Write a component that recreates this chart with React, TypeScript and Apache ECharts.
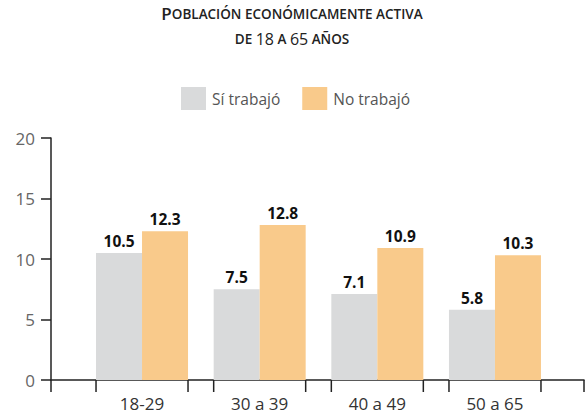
import React, { useEffect, useRef } from "react";
import * as echarts from "echarts";

const categories = ["18-29", "30 a 39", "40 a 49", "50 a 65"];
const siTrabajo = [10.5, 7.5, 7.1, 5.8];
const noTrabajo = [12.3, 12.8, 10.9, 10.3];
const seriesNames = ["Sí trabajó", "No trabajó"];
const yTicks = { min: 0, max: 20, interval: 5 };

const GRAY = "#d9dadb";
const ORANGE = "#f9ca8b";
const FONT = "'Open Sans', 'Noto Sans', sans-serif";
const BAR_W = 46;

export default function App() {
  const ref = useRef<HTMLDivElement>(null);
  useEffect(() => {
    if (!ref.current) return;
    const chart = echarts.init(ref.current, null, { renderer: "svg" });
    const labelStyle = {
      show: true,
      position: "top",
      distance: 4,
      color: "#111",
      fontWeight: "bold",
      fontSize: 15.5,
      fontFamily: FONT,
    };
    chart.setOption({
      animation: false,
      backgroundColor: "#ffffff",
      title: {
        text: "{b|P}{s|OBLACIÓN ECONÓMICAMENTE ACTIVA}\n{s|DE }{n|18}{s| A }{n|65}{s| AÑOS}",
        left: 292,
        top: 1,
        padding: 0,
        textAlign: "center",
        textStyle: {
          fontFamily: FONT,
          color: "#222",
          lineHeight: 25,
          rich: {
            b: { fontSize: 17, fontFamily: FONT, color: "#222", fontWeight: 600, lineHeight: 25 },
            n: { fontSize: 16, fontFamily: FONT, color: "#222", fontWeight: 400, lineHeight: 25 },
            s: { fontSize: 13.5, fontFamily: FONT, color: "#222", fontWeight: 600, lineHeight: 25 },
          },
        },
      },
      legend: {
        data: seriesNames,
        left: 181,
        top: 87,
        padding: 0,
        itemWidth: 25,
        itemHeight: 23,
        itemGap: 22,
        icon: "rect",
        textStyle: { fontFamily: FONT, fontSize: 15.5, color: "#555", padding: [0, 0, 0, 1] },
      },
      grid: [
        { left: 83.2, right: 34.2, top: 138, bottom: 34 },
        { left: 51, right: 4, top: 138, bottom: 34 },
      ],
      xAxis: [
        {
          type: "category",
          gridIndex: 0,
          data: categories,
          axisLine: { show: false },
          axisTick: { show: false },
          axisLabel: { fontFamily: FONT, fontSize: 17, color: "#333", margin: 15 },
        },
        {
          type: "value",
          gridIndex: 1,
          min: 0,
          max: 1,
          interval: 1,
          axisLine: { show: true, lineStyle: { color: "#222", width: 1.5 } },
          axisTick: { show: true, length: 12, lineStyle: { color: "#222", width: 1.5 } },
          axisLabel: { show: false },
          splitLine: { show: false },
        },
      ],
      yAxis: [
        {
          type: "value",
          gridIndex: 0,
          min: yTicks.min,
          max: yTicks.max,
          interval: yTicks.interval,
          show: false,
          splitLine: { show: false },
        },
        {
          type: "value",
          gridIndex: 1,
          min: yTicks.min,
          max: yTicks.max,
          interval: yTicks.interval,
          axisLine: { show: true, lineStyle: { color: "#222", width: 1.5 } },
          axisTick: { show: true, length: 10, lineStyle: { color: "#222", width: 1.5 } },
          axisLabel: { fontFamily: FONT, fontSize: 17, color: "#666", margin: 16 },
          splitLine: { show: false },
        },
      ],
      series: [
        {
          name: seriesNames[0],
          type: "bar",
          xAxisIndex: 0,
          yAxisIndex: 0,
          data: siTrabajo,
          barWidth: BAR_W,
          barGap: "0%",
          itemStyle: { color: GRAY },
          label: labelStyle,
        },
        {
          name: seriesNames[1],
          type: "bar",
          xAxisIndex: 0,
          yAxisIndex: 0,
          data: noTrabajo,
          barWidth: BAR_W,
          barGap: "0%",
          itemStyle: { color: ORANGE },
          label: labelStyle,
        },
        {
          type: "custom",
          xAxisIndex: 0,
          yAxisIndex: 0,
          silent: true,
          clip: false,
          data: categories.map((_, i) => [i, 0]),
          encode: { x: 0, y: 1 },
          renderItem: (params: any, api: any) => {
            const c = api.coord([api.value(0), 0]);
            const style = { stroke: "#222", lineWidth: 1.5 };
            return {
              type: "group",
              children: [
                { type: "line", shape: { x1: c[0] - BAR_W, y1: c[1], x2: c[0] - BAR_W, y2: c[1] + 12 }, style },
                { type: "line", shape: { x1: c[0] + BAR_W, y1: c[1], x2: c[0] + BAR_W, y2: c[1] + 12 }, style },
              ],
            };
          },
        },
      ],
    });
    return () => chart.dispose();
  }, []);
  return (
    <div
      ref={ref}
      style={{ position: "fixed", left: 0, top: 0, width: 588, height: 414 }}
    />
  );
}
